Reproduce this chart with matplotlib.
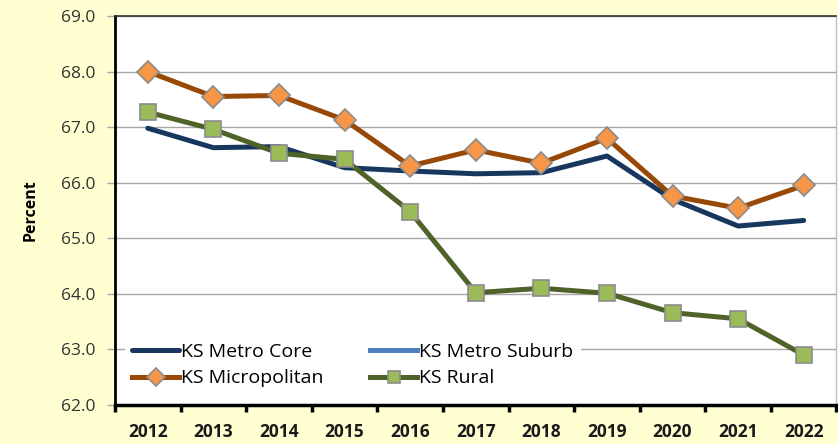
import numpy as np
import matplotlib
matplotlib.use("Agg")
from matplotlib import pyplot as plt
from matplotlib.ticker import MultipleLocator, FixedLocator

# du lieu doc tu hinh
years = [2012, 2013, 2014, 2015, 2016, 2017, 2018, 2019, 2020, 2021, 2022]
metro_core = [66.98, 66.63, 66.65, 66.27, 66.21, 66.16, 66.18, 66.48, 65.70, 65.22, 65.32]
metro_suburb = [np.nan] * 11
micropolitan = [68.00, 67.55, 67.57, 67.13, 66.30, 66.59, 66.35, 66.80, 65.76, 65.54, 65.95]
rural = [67.27, 66.96, 66.53, 66.42, 65.48, 64.02, 64.10, 64.01, 63.66, 63.55, 62.90]

plt.rcParams['font.family'] = ['Open Sans', 'DejaVu Sans']

bg = '#FFFFD2'
fig = plt.figure(figsize=(8.38, 4.44), dpi=100, facecolor=bg)
ax = fig.add_axes([0.1372, 0.088, 0.861, 0.876])
ax.set_facecolor('white')

x = np.arange(len(years))
ax.plot(x, metro_core, color='#17375E', lw=3.6, solid_capstyle='round',
        label='KS Metro Core', zorder=3)
ax.plot(x, micropolitan, color='#984807', lw=3.6, marker='D', ms=11,
        mfc='#F79646', mec='#8C8C8C', mew=1.2, label='KS Micropolitan', zorder=4)
ax.plot(x, metro_suburb, color='#4F81BD', lw=3.6, label='KS Metro Suburb', zorder=3)
ax.plot(x, rural, color='#4F6228', lw=3.6, marker='s', ms=11.5,
        mfc='#9BBB59', mec='#8C8C8C', mew=1.2, label='KS Rural', zorder=5)

ax.set_xlim(-0.5, len(years) - 0.5)
ax.set_ylim(62, 69)
ax.yaxis.set_major_locator(MultipleLocator(1))
ax.set_yticklabels(['%.1f' % v for v in ax.get_yticks()])
ax.grid(axis='y', color='#A6A6A6', lw=1.0, zorder=0)
ax.set_axisbelow(True)

ax.set_xticks(x)
ax.set_xticklabels([str(y) for y in years], fontsize=12.5, fontweight='bold', color='#1A1A1A')
ax.xaxis.set_minor_locator(FixedLocator(np.arange(-0.5, len(years), 1)))
ax.tick_params(axis='x', which='major', length=0, pad=13)
ax.tick_params(axis='x', which='minor', length=5, width=2.5, color='black', direction='out')
ax.tick_params(axis='y', length=6, width=1, color='#A6A6A6', labelsize=12.5,
               labelcolor='#333333', pad=8)

for s in ['left', 'bottom']:
    ax.spines[s].set_color('black')
ax.spines['left'].set_linewidth(2)
ax.spines['bottom'].set_linewidth(2.5)
ax.spines['top'].set_color('#333333')
ax.spines['top'].set_linewidth(1.2)
ax.spines['right'].set_color('#BFBFBF')
ax.spines['right'].set_linewidth(1)

ax.set_ylabel('Percent', fontsize=11.5, fontweight='bold', labelpad=16)

leg = ax.legend(ncol=2, loc='lower left', bbox_to_anchor=(0.0, 0.0),
                frameon=True, fontsize=14, handlelength=2.4, columnspacing=2.4,
                borderaxespad=0.5, labelspacing=0.45, handletextpad=0.1,
                markerscale=0.8)
leg.get_frame().set_facecolor('white')
leg.get_frame().set_edgecolor('none')
leg.get_frame().set_alpha(1)
leg.set_zorder(6)

fig.savefig('out.png', dpi=100, facecolor=bg)
